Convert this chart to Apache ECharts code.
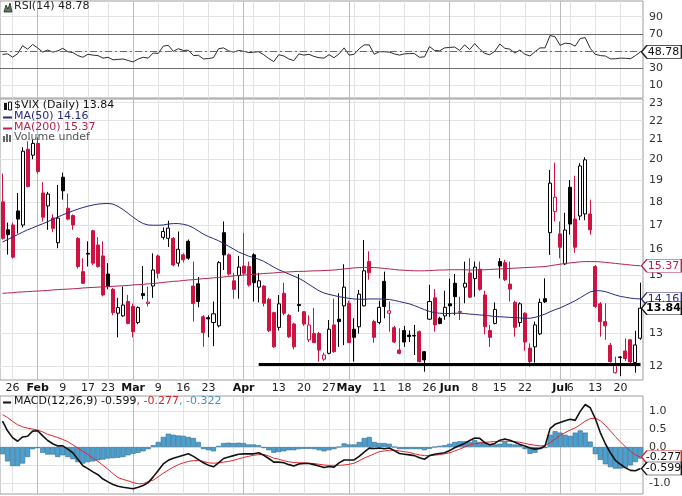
<!DOCTYPE html>
<html><head><meta charset="utf-8">
<script src="https://cdn.jsdelivr.net/npm/echarts@6/dist/echarts.min.js"></script>
<style>html,body{margin:0;padding:0;background:#fff}#c{width:682px;height:496px}</style>
</head><body><div id="c"></div>
<script>
const dates = [
'2015-01-22','2015-01-23','2015-01-26','2015-01-27','2015-01-28','2015-01-29','2015-01-30',
'2015-02-02','2015-02-03','2015-02-04','2015-02-05','2015-02-06','2015-02-09','2015-02-10','2015-02-11','2015-02-12','2015-02-13','2015-02-17','2015-02-18','2015-02-19','2015-02-20','2015-02-23','2015-02-24','2015-02-25','2015-02-26','2015-02-27',
'2015-03-02','2015-03-03','2015-03-04','2015-03-05','2015-03-06','2015-03-09','2015-03-10','2015-03-11','2015-03-12','2015-03-13','2015-03-16','2015-03-17','2015-03-18','2015-03-19','2015-03-20','2015-03-23','2015-03-24','2015-03-25','2015-03-26','2015-03-27','2015-03-30','2015-03-31',
'2015-04-01','2015-04-02','2015-04-06','2015-04-07','2015-04-08','2015-04-09','2015-04-10','2015-04-13','2015-04-14','2015-04-15','2015-04-16','2015-04-17','2015-04-20','2015-04-21','2015-04-22','2015-04-23','2015-04-24','2015-04-27','2015-04-28','2015-04-29','2015-04-30',
'2015-05-01','2015-05-04','2015-05-05','2015-05-06','2015-05-07','2015-05-08','2015-05-11','2015-05-12','2015-05-13','2015-05-14','2015-05-15','2015-05-18','2015-05-19','2015-05-20','2015-05-21','2015-05-22','2015-05-26','2015-05-27','2015-05-28','2015-05-29',
'2015-06-01','2015-06-02','2015-06-03','2015-06-04','2015-06-05','2015-06-08','2015-06-09','2015-06-10','2015-06-11','2015-06-12','2015-06-15','2015-06-16','2015-06-17','2015-06-18','2015-06-19','2015-06-22','2015-06-23','2015-06-24','2015-06-25','2015-06-26','2015-06-29','2015-06-30',
'2015-07-01','2015-07-02','2015-07-06','2015-07-07','2015-07-08','2015-07-09','2015-07-10','2015-07-13','2015-07-14','2015-07-15','2015-07-16','2015-07-17','2015-07-20','2015-07-21','2015-07-22','2015-07-23','2015-07-24'];

const open = [18.0,16.8,17.0,17.6,17.0,20.5,20.2,20.8,18.4,17.82,
17.3,16.27,19.13,17.72,17.4,16.45,15.15,15.85,16.76,16.18,
15.75,15.06,14.5,13.67,13.58,14.07,13.9,13.36,14.35,14.0,
14.62,15.75,16.49,16.45,16.45,15.47,15.79,16.33,14.62,14.7,
13.55,13.52,13.36,13.25,16.68,15.79,14.81,15.0,15.36,15.34,
15.79,14.58,14.62,14.15,13.69,13.2,14.36,13.6,13.31,13.97,
13.72,12.8,13.0,13.0,12.2,12.38,13.28,13.47,13.92,14.01,
13.14,13.22,13.92,15.53,13.39,13.36,14.79,13.67,13.19,12.48,
13.1,12.95,12.94,13.06,12.43,13.47,14.2,13.5,13.58,13.99,
14.72,13.7,14.58,15.1,14.89,15.24,14.3,13.1,13.33,15.53,
15.49,14.69,14.04,13.36,13.67,12.54,12.58,12.99,14.17,16.68,
17.57,16.63,15.44,18.66,17.25,17.38,17.47,17.47,15.34,13.99,
13.39,12.63,11.8,12.27,12.45,12.8,12.1,12.85];
const high = [19.3,17.1,17.1,18.4,20.6,20.9,21.0,21.1,18.9,18.45,
17.45,18.77,19.35,18.37,17.45,16.5,15.66,16.33,16.8,16.5,
16.33,15.47,14.55,14.2,14.6,14.3,14.0,13.9,15.36,14.6,
15.85,15.8,16.9,17.18,16.5,16.73,15.85,16.4,15.53,14.95,
13.6,13.6,14.07,15.55,17.15,15.85,15.1,15.75,16.66,15.53,
15.85,15.1,14.65,14.2,13.72,14.3,14.74,13.65,13.35,15.06,
13.75,13.6,13.85,13.05,12.4,13.44,14.17,14.36,15.43,14.1,
13.5,14.48,16.38,15.93,13.45,14.1,15.15,14.07,13.25,13.17,
13.25,13.1,13.28,13.1,12.45,14.66,14.51,13.55,14.45,14.89,
15.06,14.24,15.53,15.66,15.53,15.53,14.45,13.28,14.04,15.66,
15.6,15.53,14.1,14.04,13.7,12.69,13.39,14.17,14.9,19.48,
19.83,17.15,17.52,19.0,19.2,19.8,20.1,18.1,15.4,14.05,
14.01,12.7,12.28,12.3,12.84,12.82,13.09,14.74];
const low = [16.4,15.8,15.65,16.65,16.9,18.65,20.0,19.3,17.15,16.8,
16.7,16.05,18.1,17.2,16.8,15.27,14.7,15.34,15.4,15.3,
14.25,14.5,13.6,12.88,13.55,13.3,12.88,13.3,14.15,13.9,
14.2,14.9,16.4,16.1,15.35,15.34,15.5,15.6,13.39,13.87,
12.58,12.88,12.6,13.2,15.21,15.0,14.17,14.17,15.0,14.6,
14.07,14.04,13.9,13.05,12.55,13.1,13.6,12.85,12.5,13.72,
13.25,12.73,12.7,12.13,12.15,12.35,12.4,12.58,12.63,12.7,
12.13,13.0,13.9,14.85,12.71,13.3,13.5,13.06,12.7,12.35,
12.58,12.73,12.33,12.1,11.83,13.45,13.06,13.3,13.45,13.55,
13.6,13.44,14.01,14.2,14.24,14.45,12.97,12.58,13.3,14.9,
14.8,14.07,12.9,13.22,12.46,11.98,12.1,12.95,14.02,15.79,
17.15,15.66,15.4,16.6,15.87,17.2,17.2,16.6,13.85,12.9,
12.8,12.1,11.78,11.7,12.15,12.08,11.8,12.8];
const close = [16.45,16.6,15.7,17.25,20.4,18.7,20.8,19.4,17.33,18.35,
16.86,17.29,18.5,17.25,17.0,15.34,14.72,15.82,15.47,15.34,
14.3,14.6,13.69,13.86,13.95,13.33,13.06,13.86,14.28,14.05,
15.21,15.09,16.73,16.87,15.4,16.01,15.6,15.66,14.0,14.07,
13.03,13.48,13.65,15.49,15.79,15.06,14.5,15.32,15.09,14.66,
14.74,14.81,14.01,13.09,12.58,13.99,13.67,12.9,12.58,13.93,
13.31,13.28,12.71,12.48,12.33,13.14,12.43,13.39,14.58,12.71,
12.88,14.33,15.18,15.11,12.88,13.87,13.9,13.75,12.73,12.38,
12.73,12.9,12.92,12.13,12.18,14.07,13.28,13.33,13.87,13.92,
14.24,13.73,14.72,14.22,15.32,14.5,13.22,12.88,13.8,15.36,
14.85,14.51,13.2,13.99,12.73,12.13,13.28,14.04,14.06,18.85,
18.21,16.09,16.79,17.04,16.09,19.67,19.97,16.8,13.9,13.39,
13.25,12.13,12.01,12.25,12.22,12.12,12.64,13.84];

const ma50 = [16.3,16.4,16.5,16.6,16.7,16.8,16.88,16.97,17.05,17.14,
17.24,17.34,17.43,17.52,17.6,17.68,17.75,17.81,17.86,17.9,
17.92,17.93,17.9,17.8,17.66,17.5,17.33,17.18,17.06,17.0,
16.99,16.99,17.0,17.04,17.06,17.06,17.03,16.98,16.88,16.75,
16.62,16.52,16.44,16.35,16.25,16.13,16.02,15.9,15.82,15.74,
15.68,15.62,15.54,15.43,15.32,15.22,15.14,15.06,14.98,14.9,
14.8,14.68,14.56,14.45,14.37,14.32,14.28,14.24,14.21,14.18,
14.16,14.15,14.15,14.16,14.16,14.16,14.15,14.14,14.11,14.07,
14.03,13.99,13.93,13.86,13.79,13.73,13.69,13.67,13.66,13.66,
13.67,13.67,13.66,13.64,13.63,13.61,13.6,13.58,13.56,13.55,
13.54,13.53,13.52,13.51,13.5,13.5,13.53,13.58,13.64,13.72,
13.79,13.85,13.93,14.01,14.1,14.2,14.31,14.41,14.45,14.45,
14.42,14.36,14.3,14.25,14.22,14.19,14.17,14.16];
const ma200 = [14.36,14.37,14.38,14.40,14.41,14.42,14.43,14.44,14.45,14.46,
14.48,14.49,14.50,14.51,14.52,14.53,14.55,14.56,14.57,14.58,
14.59,14.60,14.61,14.62,14.63,14.64,14.66,14.67,14.68,14.70,
14.71,14.73,14.75,14.77,14.79,14.80,14.82,14.84,14.85,14.87,
14.89,14.90,14.92,14.93,14.95,14.97,14.99,15.01,15.02,15.04,
15.05,15.06,15.08,15.09,15.10,15.12,15.13,15.14,15.15,15.16,
15.16,15.17,15.18,15.18,15.19,15.20,15.21,15.23,15.25,15.27,
15.29,15.30,15.31,15.31,15.30,15.29,15.27,15.25,15.23,15.21,
15.20,15.19,15.18,15.18,15.18,15.19,15.20,15.21,15.21,15.22,
15.22,15.22,15.22,15.21,15.21,15.22,15.22,15.23,15.24,15.25,
15.26,15.27,15.28,15.29,15.30,15.31,15.32,15.33,15.34,15.37,
15.40,15.43,15.46,15.48,15.50,15.52,15.53,15.53,15.53,15.52,
15.50,15.48,15.46,15.44,15.42,15.40,15.38,15.37];

const rsi = [45.8,46.5,42.7,46.6,56.0,52.0,57.5,53.5,48.5,51.0,
48.5,50.0,53.0,49.0,48.0,44.5,42.5,46.0,45.0,44.5,
41.5,42.5,39.5,40.0,40.5,38.8,37.0,40.5,42.5,41.5,
47.5,47.0,55.5,56.5,49.5,52.5,50.5,50.8,44.5,44.8,
40.5,41.0,42.0,52.5,53.5,50.0,48.5,50.5,49.5,48.0,
48.5,49.0,45.5,41.0,37.5,45.5,44.0,40.5,38.5,46.5,
45.0,46.0,43.5,42.0,41.5,45.5,42.0,46.5,53.5,45.0,
46.0,52.5,57.0,57.0,46.0,49.0,49.0,48.5,46.5,45.0,
46.5,46.8,46.8,42.5,43.0,55.0,50.5,50.0,53.5,54.0,
54.5,50.5,57.0,51.5,58.5,52.0,47.0,45.5,49.5,58.0,
53.0,52.0,47.5,51.0,46.0,44.0,49.0,53.5,53.5,68.0,
66.5,56.5,59.0,58.5,55.5,64.5,65.5,53.0,46.0,44.5,
44.0,40.7,40.7,41.5,41.3,40.8,44.5,48.78];

const macd = [0.72,0.45,0.26,0.16,0.28,0.30,0.44,0.45,0.31,0.18,
0.09,0.03,0.03,-0.06,-0.16,-0.34,-0.52,-0.60,-0.69,-0.77,
-0.89,-0.97,-1.04,-1.09,-1.12,-1.14,-1.16,-1.12,-1.07,-0.99,
-0.83,-0.65,-0.47,-0.37,-0.31,-0.27,-0.23,-0.19,-0.26,-0.35,
-0.44,-0.51,-0.55,-0.44,-0.32,-0.28,-0.24,-0.20,-0.19,-0.19,
-0.19,-0.16,-0.23,-0.32,-0.42,-0.42,-0.44,-0.49,-0.53,-0.47,
-0.46,-0.46,-0.49,-0.53,-0.57,-0.54,-0.56,-0.44,-0.36,-0.36,
-0.36,-0.26,-0.14,-0.03,-0.04,-0.03,-0.05,-0.03,-0.10,-0.18,
-0.20,-0.22,-0.24,-0.30,-0.34,-0.24,-0.20,-0.18,-0.16,-0.10,
-0.02,0.04,0.10,0.18,0.25,0.24,0.12,0.06,0.10,0.19,
0.22,0.19,0.13,0.07,0.03,-0.03,-0.06,-0.04,0.03,0.51,
0.63,0.68,0.73,0.77,0.74,0.99,1.18,1.09,0.79,0.40,
0.09,-0.16,-0.37,-0.48,-0.58,-0.65,-0.66,-0.599];
const signal = [0.90,0.82,0.71,0.62,0.56,0.52,0.50,0.47,0.42,0.35,
0.31,0.26,0.21,0.15,0.06,-0.03,-0.12,-0.21,-0.31,-0.40,
-0.51,-0.62,-0.74,-0.85,-0.90,-0.94,-0.99,-1.02,-1.02,-0.96,
-0.92,-0.83,-0.73,-0.64,-0.56,-0.49,-0.44,-0.40,-0.38,-0.37,
-0.40,-0.44,-0.45,-0.44,-0.42,-0.40,-0.37,-0.33,-0.29,-0.26,
-0.23,-0.21,-0.21,-0.25,-0.31,-0.34,-0.38,-0.41,-0.43,-0.44,
-0.44,-0.45,-0.46,-0.48,-0.50,-0.51,-0.51,-0.51,-0.50,-0.48,
-0.45,-0.38,-0.31,-0.25,-0.19,-0.13,-0.11,-0.09,-0.09,-0.11,
-0.13,-0.15,-0.19,-0.22,-0.24,-0.24,-0.23,-0.21,-0.19,-0.16,
-0.11,-0.06,0.00,0.06,0.09,0.11,0.13,0.14,0.15,0.16,
0.16,0.16,0.15,0.13,0.10,0.07,0.05,0.03,0.04,0.12,
0.22,0.32,0.40,0.47,0.53,0.62,0.72,0.79,0.80,0.73,
0.60,0.45,0.29,0.14,0.01,-0.12,-0.22,-0.277];
const hist = [-0.20,-0.40,-0.53,-0.53,-0.46,-0.28,-0.06,-0.03,-0.16,-0.21,
-0.21,-0.28,-0.23,-0.28,-0.34,-0.42,-0.46,-0.42,-0.40,-0.37,
-0.35,-0.32,-0.31,-0.30,-0.28,-0.23,-0.19,-0.16,-0.12,-0.06,
0.05,0.14,0.28,0.37,0.34,0.32,0.31,0.28,0.25,0.14,
-0.06,-0.09,-0.12,0.03,0.11,0.12,0.11,0.12,0.11,0.07,
0.07,0.05,-0.03,-0.09,-0.16,-0.14,-0.12,-0.09,-0.09,-0.06,
-0.05,-0.05,-0.06,-0.09,-0.12,-0.09,-0.06,0.00,0.10,0.07,
0.07,0.14,0.25,0.28,0.14,0.11,0.11,0.09,0.00,-0.06,
-0.06,-0.06,-0.06,-0.06,-0.09,-0.05,0.00,0.03,0.05,0.09,
0.14,0.16,0.16,0.14,0.19,0.14,0.12,0.05,0.07,0.09,
0.14,0.09,0.07,0.05,-0.06,-0.19,-0.16,-0.06,-0.03,0.34,
0.44,0.40,0.34,0.31,0.40,0.46,0.40,0.15,-0.20,-0.36,
-0.48,-0.56,-0.60,-0.60,-0.58,-0.51,-0.42,-0.322];

const priceTicks = [12,13,14,15,16,17,18,19,20,21,22,23];
const rsiTicks = [10,30,50,70,90];
const rsiLabelTicks = [10,30,70,90];
const macdTicks = [-1,-0.5,0,0.5,1];
const weekStarts = ['2015-01-26','2015-02-02','2015-02-09','2015-02-17','2015-02-23','2015-03-02','2015-03-09','2015-03-16','2015-03-23','2015-03-30','2015-04-06','2015-04-13','2015-04-20','2015-04-27','2015-05-04','2015-05-11','2015-05-18','2015-05-26','2015-06-01','2015-06-08','2015-06-15','2015-06-22','2015-06-29','2015-07-06','2015-07-13','2015-07-20'];
const monthStarts = ['2015-02-02','2015-03-02','2015-04-01','2015-05-01','2015-06-01','2015-07-01'];
const labelDates = ['2015-01-26','2015-02-02','2015-02-09','2015-02-17','2015-02-23','2015-03-02','2015-03-09','2015-03-16','2015-03-23','2015-04-01','2015-04-13','2015-04-20','2015-04-27','2015-05-01','2015-05-11','2015-05-18','2015-05-26','2015-06-01','2015-06-08','2015-06-15','2015-06-22','2015-07-01','2015-07-06','2015-07-13','2015-07-20'];
const monthNames = ['Jan','Feb','Mar','Apr','May','Jun','Jul','Aug','Sep','Oct','Nov','Dec'];
const supportLevel = 12.06;
const supportFrom = '2015-04-07';

const FONT = 'DejaVu Sans';
const RED = '#cf1241', NAVY = '#252a7d', CRIMSON = '#b3234f', BLUE = '#4f9fcc', SIG = '#e5262b';
const N = dates.length;
const weekSet = new Set(weekStarts), monthSet = new Set(monthStarts), labelSet = new Set(labelDates);

const candleData = dates.map((d, i) => {
  const o = open[i], c = close[i];
  const prev = i > 0 ? close[i - 1] : o;
  const col = c >= prev ? '#000000' : RED;
  const fill = c > o ? '#ffffff' : col;
  return { value: [o, c, low[i], high[i]], itemStyle: { color: fill, color0: fill, borderColor: col, borderColor0: col } };
});

const TAG = 'path://M0,6 L6,0 L44,0 L44,12 L6,12 Z';
function tag(value, border, text, digits, bold, z) {
  return {
    symbol: TAG, symbolSize: [40, 13], symbolKeepAspect: false, symbolOffset: [21, 0], z: z || 5, silent: true,
    itemStyle: { color: '#fff', borderColor: border, borderWidth: 1 },
    label: { show: true, position: 'inside', offset: [2, 0], color: text, fontSize: 11, fontFamily: FONT,
      fontWeight: bold ? 'bold' : 'normal', formatter: () => value.toFixed(digits) },
    data: [{ coord: [dates[N - 1], value] }]
  };
}

const gridBase = { left: 0, width: 643, show: true, borderColor: '#9c9c9c', borderWidth: 1, backgroundColor: '#fff' };
function weekAxis(gi, labels) {
  return {
    type: 'category', gridIndex: gi, data: dates, boundaryGap: true,
    axisLine: { show: false }, axisTick: { show: false },
    axisLabel: labels ? {
      show: true, interval: (i, v) => labelSet.has(v), margin: 3, color: '#222', fontSize: 11, fontFamily: FONT,
      formatter: v => monthSet.has(v) ? '{b|' + monthNames[+v.slice(5, 7) - 1] + '}' : String(+v.slice(8, 10)),
      rich: { b: { fontWeight: 'bold', fontSize: 11, color: '#111', fontFamily: FONT } }
    } : { show: false },
    splitLine: { show: true, alignWithLabel: true, interval: (i, v) => weekSet.has(v), lineStyle: { color: '#e3e3e3', width: 1 } }
  };
}
function monthAxis(gi) {
  return {
    type: 'category', gridIndex: gi, data: dates, boundaryGap: true,
    axisLine: { show: false }, axisTick: { show: false }, axisLabel: { show: false },
    splitLine: { show: true, alignWithLabel: true, interval: (i, v) => monthSet.has(v), lineStyle: { color: '#bcbcbc', width: 1 } }
  };
}
const axisLabelStyle = { color: '#333', fontSize: 11, fontFamily: FONT, margin: 6 };

const chart = echarts.init(document.getElementById('c'), null, { renderer: 'canvas' });
chart.setOption({
  animation: false,
  backgroundColor: '#fff',
  grid: [
    Object.assign({ top: 1, height: 97 }, gridBase),
    Object.assign({ top: 99, height: 281 }, gridBase),
    Object.assign({ top: 396, height: 98 }, gridBase)
  ],
  xAxis: [weekAxis(0, false), weekAxis(1, true), weekAxis(2, false), monthAxis(0), monthAxis(1), monthAxis(2)],
  yAxis: [
    { type: 'value', gridIndex: 0, position: 'right', min: -5.2, max: 108.4,
      axisLine: { show: false }, axisTick: { show: false, customValues: rsiTicks },
      axisLabel: Object.assign({ customValues: rsiLabelTicks }, axisLabelStyle),
      splitLine: { show: true, lineStyle: { color: '#e3e3e3' } } },
    { type: 'log', logBase: 10, gridIndex: 1, position: 'right', min: 11.59, max: 23.21,
      axisLine: { show: false }, axisTick: { show: false, customValues: priceTicks },
      axisLabel: Object.assign({ customValues: priceTicks, formatter: v => String(Math.round(v)) }, axisLabelStyle),
      splitLine: { show: true, lineStyle: { color: '#e3e3e3' } } },
    { type: 'value', gridIndex: 2, position: 'right', min: -1.306, max: 1.417,
      axisLine: { show: false }, axisTick: { show: false, customValues: macdTicks },
      axisLabel: Object.assign({ customValues: macdTicks, formatter: v => v.toFixed(1) }, axisLabelStyle),
      splitLine: { show: true, lineStyle: { color: '#e3e3e3' } } }
  ],
  title: [
    { text: 'RSI(14) ' + rsi[N - 1].toFixed(2), left: 14, top: 1, padding: 0, textStyle: { fontSize: 11, fontWeight: 'normal', color: '#222', fontFamily: FONT } },
    { text: '$VIX (Daily) ' + close[N - 1].toFixed(2), left: 14, top: 100, padding: 0, textStyle: { fontSize: 11, fontWeight: 'normal', color: '#111', fontFamily: FONT } },
    { text: 'MA(50) ' + ma50[N - 1].toFixed(2), left: 14, top: 111, padding: 0, textStyle: { fontSize: 11, fontWeight: 'normal', color: NAVY, fontFamily: FONT } },
    { text: 'MA(200) ' + ma200[N - 1].toFixed(2), left: 14, top: 122, padding: 0, textStyle: { fontSize: 11, fontWeight: 'normal', color: CRIMSON, fontFamily: FONT } },
    { text: 'Volume undef', left: 14, top: 132, padding: 0, textStyle: { fontSize: 11, fontWeight: 'normal', color: '#555', fontFamily: FONT } },
    { text: '{k|MACD(12,26,9) ' + macd[N - 1].toFixed(3) + '}{r|, ' + signal[N - 1].toFixed(3) + '}{b|, ' + hist[N - 1].toFixed(3) + '}',
      left: 14, top: 396, padding: 0,
      textStyle: { fontSize: 11, fontWeight: 'normal', fontFamily: FONT,
        rich: { k: { color: '#111', fontSize: 11, fontFamily: FONT }, r: { color: '#d42424', fontSize: 11, fontFamily: FONT }, b: { color: '#3f95c6', fontSize: 11, fontFamily: FONT } } } }
  ],
  graphic: [
    { type: 'polygon', z: 100, shape: { points: [[4, 12], [6, 5], [8, 9], [10, 3], [12, 12]] }, style: { fill: '#5b7d5b', stroke: '#222', lineWidth: 0.8 } },
    { type: 'rect', z: 100, shape: { x: 4, y: 103, width: 3, height: 7 }, style: { fill: '#111' } },
    { type: 'rect', z: 100, shape: { x: 8.5, y: 102, width: 3, height: 8 }, style: { fill: '#fff', stroke: '#111', lineWidth: 1 } },
    { type: 'line', z: 100, shape: { x1: 3, y1: 117.5, x2: 12, y2: 117.5 }, style: { stroke: NAVY, lineWidth: 2 } },
    { type: 'line', z: 100, shape: { x1: 3, y1: 128.5, x2: 12, y2: 128.5 }, style: { stroke: CRIMSON, lineWidth: 2 } },
    { type: 'rect', z: 100, shape: { x: 3, y: 136, width: 2, height: 6 }, style: { fill: '#666' } },
    { type: 'rect', z: 100, shape: { x: 6, y: 134, width: 2, height: 8 }, style: { fill: '#666' } },
    { type: 'rect', z: 100, shape: { x: 9, y: 135, width: 2, height: 7 }, style: { fill: '#666' } },
    { type: 'line', z: 100, shape: { x1: 3, y1: 402.5, x2: 11, y2: 402.5 }, style: { stroke: '#111', lineWidth: 2 } }
  ],
  series: [
    { type: 'line', name: 'RSI', xAxisIndex: 0, yAxisIndex: 0, data: rsi, symbol: 'none', clip: false,
      lineStyle: { color: '#2a2a2a', width: 1 },
      markLine: { silent: true, symbol: 'none', label: { show: false },
        data: [
          { yAxis: 70, lineStyle: { color: '#6b6b6b', width: 1, type: 'solid' } },
          { yAxis: 30, lineStyle: { color: '#6b6b6b', width: 1, type: 'solid' } },
          { yAxis: 50, lineStyle: { color: '#6b6b6b', width: 1, type: [7, 3, 2, 3] } }
        ] },
      markPoint: tag(rsi[N - 1], '#222', '#111', 2, false) },
    { type: 'candlestick', name: '$VIX', xAxisIndex: 1, yAxisIndex: 1, data: candleData, barWidth: '70%', clip: false,
      itemStyle: { borderWidth: 1 },
      markLine: { silent: true, symbol: 'none', label: { show: false }, lineStyle: { color: '#000', width: 3, type: 'solid' },
        data: [[{ coord: [supportFrom, supportLevel] }, { coord: [dates[N - 1], supportLevel] }]] },
      markPoint: tag(close[N - 1], '#111', '#000', 2, true, 20) },
    { type: 'line', name: 'MA(50)', xAxisIndex: 1, yAxisIndex: 1, data: ma50, symbol: 'none', clip: false,
      lineStyle: { color: NAVY, width: 1 }, markPoint: tag(ma50[N - 1], NAVY, NAVY, 2, false, 6) },
    { type: 'line', name: 'MA(200)', xAxisIndex: 1, yAxisIndex: 1, data: ma200, symbol: 'none', clip: false,
      lineStyle: { color: CRIMSON, width: 1 }, markPoint: tag(ma200[N - 1], CRIMSON, CRIMSON, 2, false, 6) },
    { type: 'bar', name: 'Hist', xAxisIndex: 2, yAxisIndex: 2, data: hist, barCategoryGap: '0%',
      itemStyle: { color: BLUE, borderColor: '#2c6d95', borderWidth: 0.6 } },
    { type: 'line', name: 'Signal', xAxisIndex: 2, yAxisIndex: 2, data: signal, symbol: 'none', clip: false,
      lineStyle: { color: SIG, width: 1 }, markPoint: tag(signal[N - 1], '#d42424', '#111', 3, false, 6) },
    { type: 'line', name: 'MACD', xAxisIndex: 2, yAxisIndex: 2, data: macd, symbol: 'none', clip: false,
      lineStyle: { color: '#111', width: 1.6 }, markPoint: tag(macd[N - 1], '#111', '#111', 3, false, 7) }
  ]
});
</script>
</body></html>
